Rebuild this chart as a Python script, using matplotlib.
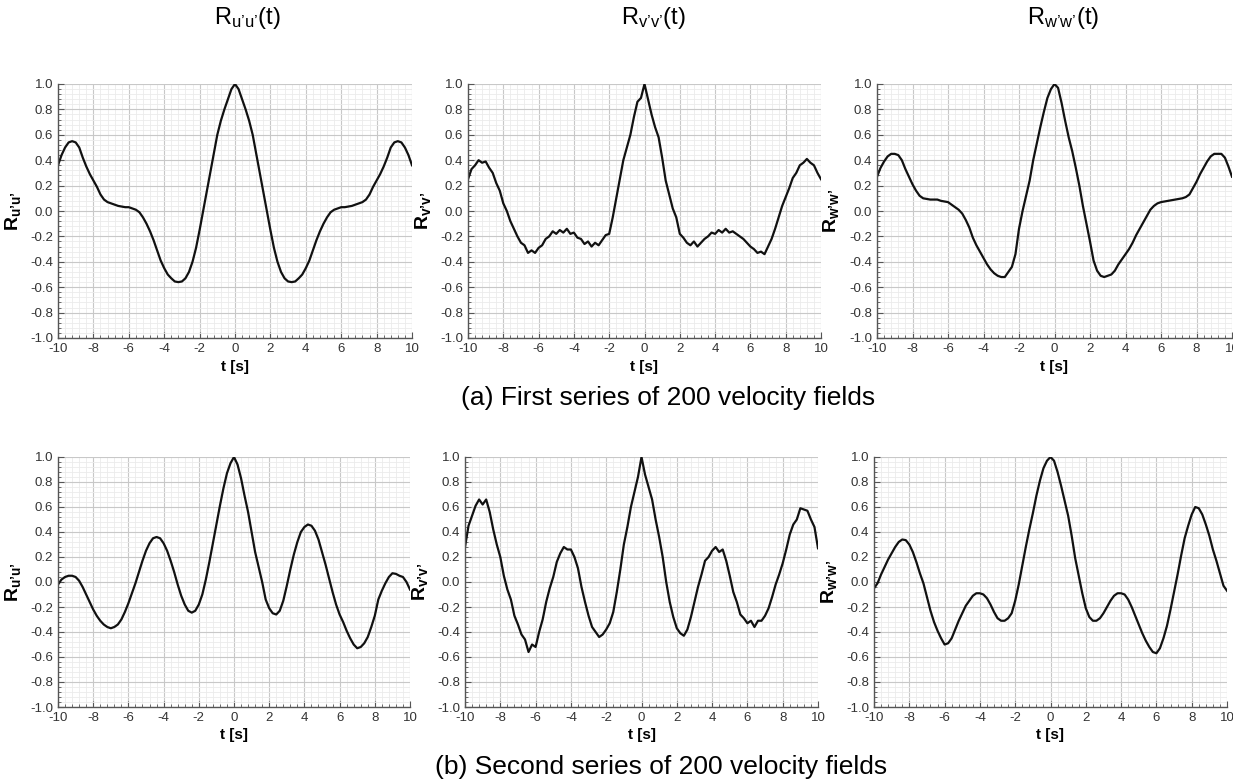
import numpy as np
import matplotlib
matplotlib.use("Agg")
import matplotlib.pyplot as plt
from matplotlib.ticker import MultipleLocator, FormatStrFormatter

plt.rcParams['font.family'] = ['Liberation Sans', 'DejaVu Sans']
plt.rcParams['mathtext.fontset'] = 'custom'
plt.rcParams['mathtext.rm'] = 'Liberation Sans'
plt.rcParams['mathtext.bf'] = 'Liberation Sans:bold'
plt.rcParams['mathtext.it'] = 'Liberation Sans:italic'
plt.rcParams['axes.unicode_minus'] = False

# time lag axis, 0.2 s steps
t = np.round(np.arange(-10, 10.001, 0.2), 1)

# (a) first series
a_u = [0.36, 0.44, 0.50, 0.54, 0.55, 0.54, 0.50, 0.42, 0.35, 0.29,
       0.24, 0.19, 0.13, 0.09, 0.07, 0.06, 0.05, 0.04, 0.035, 0.03,
       0.03, 0.02, 0.01, -0.01, -0.05, -0.10, -0.16, -0.23, -0.31, -0.39,
       -0.45, -0.50, -0.53, -0.555, -0.56, -0.555, -0.53, -0.48, -0.40, -0.29,
       -0.15, 0.00, 0.15, 0.30, 0.45, 0.60, 0.71, 0.80, 0.88, 0.96,
       1.00,
       0.96, 0.88, 0.80, 0.71, 0.60, 0.45, 0.30, 0.15, 0.00, -0.15,
       -0.29, -0.40, -0.48, -0.53, -0.555, -0.56, -0.555, -0.53, -0.50, -0.45,
       -0.39, -0.31, -0.23, -0.16, -0.10, -0.05, -0.01, 0.01, 0.02, 0.03,
       0.03, 0.035, 0.04, 0.05, 0.06, 0.07, 0.09, 0.13, 0.19, 0.24,
       0.29, 0.35, 0.42, 0.50, 0.54, 0.55, 0.54, 0.50, 0.44, 0.36]

a_v = [0.25, 0.33, 0.36, 0.40, 0.38, 0.39, 0.34, 0.30, 0.22, 0.16,
       0.06, 0.00, -0.08, -0.14, -0.20, -0.25, -0.27, -0.33, -0.31, -0.33,
       -0.29, -0.27, -0.22, -0.20, -0.16, -0.18, -0.15, -0.17, -0.14, -0.18,
       -0.17, -0.21, -0.22, -0.26, -0.24, -0.28, -0.25, -0.27, -0.23, -0.19,
       -0.18, -0.05, 0.10, 0.25, 0.40, 0.50, 0.60, 0.74, 0.86, 0.89,
       1.00,
       0.88, 0.76, 0.66, 0.58, 0.42, 0.24, 0.13, 0.02, -0.05, -0.18,
       -0.21, -0.25, -0.27, -0.24, -0.28, -0.25, -0.22, -0.20, -0.17, -0.18,
       -0.15, -0.17, -0.14, -0.17, -0.16, -0.18, -0.20, -0.22, -0.25, -0.28,
       -0.30, -0.33, -0.32, -0.34, -0.28, -0.22, -0.14, -0.05, 0.04, 0.11,
       0.18, 0.26, 0.30, 0.36, 0.38, 0.41, 0.38, 0.36, 0.30, 0.25]

a_w = [0.27, 0.34, 0.39, 0.43, 0.45, 0.45, 0.44, 0.40, 0.33, 0.27,
       0.21, 0.16, 0.12, 0.10, 0.095, 0.09, 0.09, 0.09, 0.08, 0.075,
       0.07, 0.05, 0.03, 0.01, -0.02, -0.07, -0.13, -0.21, -0.27, -0.32,
       -0.37, -0.42, -0.46, -0.49, -0.51, -0.52, -0.52, -0.48, -0.44, -0.34,
       -0.14, 0.00, 0.12, 0.24, 0.40, 0.53, 0.66, 0.78, 0.89, 0.96,
       1.00,
       0.97, 0.85, 0.71, 0.58, 0.47, 0.34, 0.20, 0.04, -0.10, -0.24,
       -0.39, -0.47, -0.51, -0.52, -0.51, -0.50, -0.47, -0.42, -0.38, -0.34,
       -0.30, -0.25, -0.19, -0.14, -0.09, -0.04, 0.01, 0.04, 0.06, 0.07,
       0.075, 0.08, 0.085, 0.09, 0.095, 0.10, 0.11, 0.13, 0.18, 0.23,
       0.29, 0.34, 0.39, 0.43, 0.45, 0.45, 0.45, 0.42, 0.35, 0.27]

# (b) second series
b_u = [-0.02, 0.02, 0.04, 0.05, 0.05, 0.04, 0.01, -0.04, -0.10, -0.16,
       -0.22, -0.27, -0.31, -0.34, -0.36, -0.37, -0.36, -0.34, -0.30, -0.24,
       -0.17, -0.09, -0.01, 0.08, 0.17, 0.25, 0.31, 0.35, 0.36, 0.35,
       0.31, 0.25, 0.17, 0.08, -0.02, -0.11, -0.18, -0.23, -0.245, -0.23,
       -0.18, -0.10, 0.02, 0.16, 0.31, 0.46, 0.61, 0.75, 0.87, 0.95,
       1.00,
       0.94, 0.83, 0.69, 0.56, 0.40, 0.24, 0.12, 0.00, -0.14, -0.21,
       -0.25, -0.26, -0.23, -0.15, -0.03, 0.10, 0.22, 0.32, 0.40, 0.44,
       0.46, 0.45, 0.41, 0.34, 0.24, 0.14, 0.03, -0.08, -0.18, -0.26,
       -0.32, -0.39, -0.45, -0.50, -0.53, -0.52, -0.49, -0.44, -0.36, -0.27,
       -0.14, -0.07, -0.01, 0.04, 0.07, 0.065, 0.05, 0.04, 0.00, -0.06]

b_v = [0.28, 0.45, 0.53, 0.61, 0.66, 0.62, 0.66, 0.56, 0.42, 0.30,
       0.20, 0.05, -0.06, -0.14, -0.27, -0.34, -0.42, -0.46, -0.56, -0.50,
       -0.52, -0.40, -0.30, -0.16, -0.05, 0.04, 0.16, 0.23, 0.28, 0.26,
       0.26, 0.20, 0.11, -0.04, -0.16, -0.27, -0.36, -0.40, -0.44, -0.42,
       -0.38, -0.33, -0.24, -0.08, 0.10, 0.30, 0.44, 0.60, 0.72, 0.84,
       1.00,
       0.86, 0.76, 0.66, 0.50, 0.36, 0.20, 0.00, -0.16, -0.28, -0.37,
       -0.41, -0.43, -0.38, -0.28, -0.16, -0.04, 0.06, 0.17, 0.20, 0.25,
       0.28, 0.24, 0.26, 0.17, 0.05, -0.08, -0.16, -0.26, -0.29, -0.33,
       -0.31, -0.36, -0.31, -0.31, -0.27, -0.21, -0.12, -0.02, 0.06, 0.15,
       0.26, 0.38, 0.46, 0.50, 0.59, 0.58, 0.57, 0.50, 0.44, 0.27]

b_w = [-0.05, -0.01, 0.06, 0.12, 0.18, 0.23, 0.28, 0.32, 0.34, 0.335,
       0.30, 0.24, 0.16, 0.07, -0.01, -0.12, -0.23, -0.32, -0.39, -0.45,
       -0.50, -0.49, -0.45, -0.38, -0.31, -0.25, -0.19, -0.15, -0.11, -0.09,
       -0.09, -0.10, -0.13, -0.18, -0.24, -0.29, -0.31, -0.31, -0.29, -0.25,
       -0.15, -0.02, 0.13, 0.28, 0.42, 0.55, 0.69, 0.81, 0.91, 0.97,
       1.00,
       0.97, 0.88, 0.77, 0.65, 0.53, 0.37, 0.19, 0.05, -0.09, -0.21,
       -0.28, -0.31, -0.31, -0.29, -0.25, -0.20, -0.15, -0.11, -0.09, -0.09,
       -0.10, -0.14, -0.20, -0.27, -0.34, -0.41, -0.47, -0.52, -0.56, -0.57,
       -0.53, -0.45, -0.35, -0.22, -0.08, 0.06, 0.21, 0.35, 0.45, 0.54,
       0.60, 0.59, 0.54, 0.46, 0.37, 0.26, 0.17, 0.07, -0.03, -0.07]

ylabels = [r"$\mathbf{R}_{\mathbf{u’u’}}$", r"$\mathbf{R}_{\mathbf{v’v’}}$", r"$\mathbf{R}_{\mathbf{w’w’}}$"]
titles = [r"$\mathrm{R}_{\mathrm{u’u’}}\mathrm{(t)}$", r"$\mathrm{R}_{\mathrm{v’v’}}\mathrm{(t)}$",
          r"$\mathrm{R}_{\mathrm{w’w’}}\mathrm{(t)}$"]
captions = ["(a) First series of 200 velocity fields", "(b) Second series of 200 velocity fields"]

W, H = 1233, 782
fig = plt.figure(figsize=(W / 100, H / 100), dpi=100)

# axes boxes in pixels: left, right, top, bottom
boxes = [
    [(58, 412, 84, 338), (468, 821, 84, 338), (877, 1232, 84, 338)],
    [(58, 410, 457, 707), (465, 818, 457, 707), (874, 1227, 457, 707)],
]
series = [[a_u, a_v, a_w], [b_u, b_v, b_w]]

for r in range(2):
    for c in range(3):
        x0, x1, y0, y1 = boxes[r][c]
        ax = fig.add_axes([x0 / W, 1 - y1 / H, (x1 - x0) / W, (y1 - y0) / H])
        ax.plot(t, series[r][c], color='#111111', lw=1.6)
        ax.set_xlim(-10, 10)
        ax.set_ylim(-1, 1)
        ax.xaxis.set_major_locator(MultipleLocator(2))
        ax.xaxis.set_minor_locator(MultipleLocator(0.4))
        ax.yaxis.set_major_locator(MultipleLocator(0.2))
        ax.yaxis.set_minor_locator(MultipleLocator(0.04))
        ax.yaxis.set_major_formatter(FormatStrFormatter('%.1f'))
        ax.grid(which='major', color='#c8c8c8', lw=0.8)
        ax.grid(which='minor', color='#ebebeb', lw=0.6)
        ax.set_axisbelow(True)
        for s in ['top', 'right']:
            ax.spines[s].set_visible(False)
        for s in ['left', 'bottom']:
            ax.spines[s].set_color('#555555')
            ax.spines[s].set_linewidth(1.0)
        ax.tick_params(which='both', direction='in', color='#555555', labelcolor='#333333', labelsize=9.5)
        ax.tick_params(which='major', length=4)
        ax.tick_params(which='minor', length=2)
        ax.set_xlabel('t [s]', fontsize=11, fontweight='bold')
        ax.xaxis.set_label_coords(0.5, -0.085)
        ax.set_ylabel(ylabels[c], fontsize=14)
        ax.yaxis.set_label_coords(-0.1, 0.5)

for c in range(3):
    fig.text([247, 653, 1063][c] / W, 1 - 18 / H, titles[c], fontsize=17, ha='center', va='center')

fig.text(668 / W, 1 - 398 / H, captions[0], fontsize=19, ha='center', va='center')
fig.text(661 / W, 1 - 767 / H, captions[1], fontsize=19, ha='center', va='center')

fig.savefig('out.png', dpi=100)
